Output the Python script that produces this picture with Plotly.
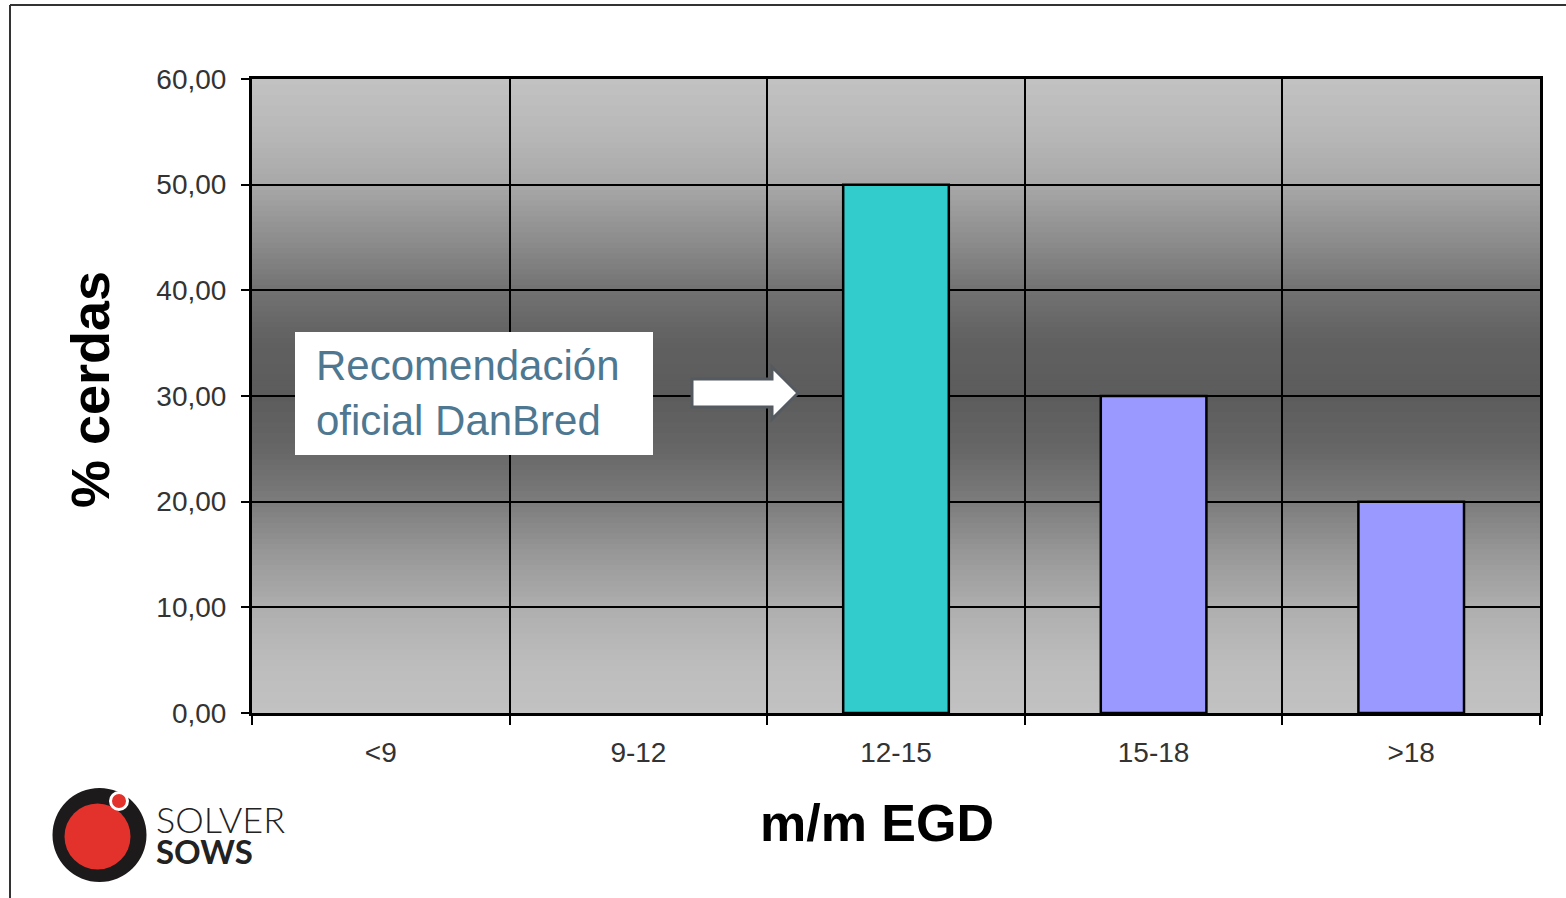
import plotly.graph_objects as go

# ---- data ----
categories = ["<9", "9-12", "12-15", "15-18", ">18"]
pct_cerdas = [0, 0, 50, 30, 20]
bar_colors = ["#9999FF", "#9999FF", "#33CCCC", "#9999FF", "#9999FF"]
y_title = "% cerdas"
x_title = "m/m EGD"
note_text = "Recomendación<br>oficial DanBred"

# ---- geometry (page pixels); body margin is removed below ----
FW, FH = 1566, 898
L, R, T, B = 252, 1540, 79, 713
W, H = R - L, B - T


def xp(px):
    return (px - L) / W


def yp(py):
    return 1 - (py - T) / H


fig = go.Figure()
fig.add_trace(go.Bar(
    x=categories, y=pct_cerdas,
    marker=dict(color=bar_colors,
                line=dict(color="black", width=[0 if v == 0 else 2.5 for v in pct_cerdas])),
    width=0.41, hoverinfo="x+y",
))

shapes = []
# gradient background (grey, dark in the middle)
stops = [(0, 194), (5, 188), (10, 174), (15, 152), (20, 124), (25, 102), (30, 92),
         (35, 96), (40, 114), (45, 142), (50, 168), (55, 184), (60, 194)]


def grey_at(v):
    for (a, ca), (b, cb) in zip(stops[:-1], stops[1:]):
        if a <= v <= b:
            t = (v - a) / (b - a)
            return int(round(ca + (cb - ca) * t))
    return stops[-1][1]


step = 0.5
n = int(60 / step)
for i in range(n):
    v0 = i * step
    g = grey_at(v0 + step / 2)
    shapes.append(dict(type="rect", xref="x domain", yref="y", x0=0, x1=1,
                       y0=v0, y1=min(60, v0 + step * 1.8), layer="below",
                       fillcolor=f"rgb({g},{g},{g})", line=dict(width=0)))

# page frame
shapes.append(dict(type="line", xref="paper", yref="paper", x0=xp(10), x1=xp(1580),
                   y0=yp(5), y1=yp(5), line=dict(color="#333", width=2), layer="above"))
shapes.append(dict(type="line", xref="paper", yref="paper", x0=xp(10), x1=xp(10),
                   y0=yp(5), y1=yp(910), line=dict(color="#333", width=2), layer="above"))

# note box
shapes.append(dict(type="rect", xref="paper", yref="paper", x0=xp(295), x1=xp(653),
                   y0=yp(455), y1=yp(332), fillcolor="white", line=dict(width=0), layer="above"))

# arrow
pts = [(692, 379), (772, 379), (772, 367), (798, 393), (772, 419), (772, 407), (692, 407)]
path = "M " + " L ".join(f"{xp(a)},{yp(b)}" for a, b in pts) + " Z"
shapes.append(dict(type="path", xref="paper", yref="paper", path=path,
                   fillcolor="white", line=dict(color="#555a60", width=3), layer="above"))


# logo
def circ(cx, cy, r, color, line=None):
    return dict(type="circle", xref="paper", yref="paper", x0=xp(cx - r), x1=xp(cx + r),
                y0=yp(cy + r), y1=yp(cy - r), fillcolor=color,
                line=line or dict(width=0), layer="above")


shapes.append(circ(99.5, 835, 47, "#1d1a1c"))
shapes.append(circ(97.5, 836.5, 33, "#e2322b"))
shapes.append(circ(119, 801, 8.5, "#e2322b", dict(color="white", width=3)))

annotations = [
    dict(text=note_text, xref="paper", yref="paper", x=xp(314), y=yp(393),
         xanchor="left", yanchor="middle", align="left", showarrow=False,
         font=dict(family="Liberation Sans, Arial", size=42, color="#4e7891")),
    dict(text=f"<b>{y_title}</b>", xref="paper", yref="paper", x=xp(90), y=yp(390),
         xanchor="center", yanchor="middle", textangle=-90, showarrow=False,
         font=dict(family="Liberation Sans, Arial", size=54, color="black")),
    dict(text=f"<b>{x_title}</b>", xref="paper", yref="paper", x=xp(877), y=yp(823),
         xanchor="center", yanchor="middle", showarrow=False,
         font=dict(family="Liberation Sans, Arial", size=52, color="black")),
    dict(text="SOLVER", xref="paper", yref="paper", x=xp(154), y=yp(819),
         xanchor="left", yanchor="middle", showarrow=False,
         font=dict(family="Lato", size=36, color="#222", weight=300)),
    dict(text="<b>SOWS</b>", xref="paper", yref="paper", x=xp(154), y=yp(851),
         xanchor="left", yanchor="middle", showarrow=False,
         font=dict(family="Lato", size=33, color="#222")),
]

fig.update_layout(
    width=FW, height=FH,
    margin=dict(l=L, r=FW - R, t=T, b=FH - B, pad=0),
    paper_bgcolor="white", plot_bgcolor="#a0a0a0",
    showlegend=False, separators=",.",
    bargap=0.59,
    shapes=shapes, annotations=annotations,
    font=dict(family="Liberation Sans, Arial", color="#333"),
)
fig.update_xaxes(
    type="category", range=[-0.5, 4.5], tickson="boundaries",
    ticks="outside", ticklen=9, tickwidth=1.5, tickcolor="black",
    showgrid=True, gridcolor="black", gridwidth=1.5,
    showline=True, linecolor="black", linewidth=3, mirror=True,
    tickfont=dict(size=28, color="#333"), ticklabelstandoff=12,
)
fig.update_yaxes(
    range=[0, 60], dtick=10, tickformat=".2f",
    ticks="outside", ticklen=8, tickwidth=1.5, tickcolor="black",
    showgrid=True, gridcolor="black", gridwidth=1.5, zeroline=False,
    showline=True, linecolor="black", linewidth=3, mirror=True,
    tickfont=dict(size=28, color="#333"), ticklabelstandoff=9,
)

fig.write_html("out.html", config={"displayModeBar": False},
               post_script="document.body.style.margin='0px';")
